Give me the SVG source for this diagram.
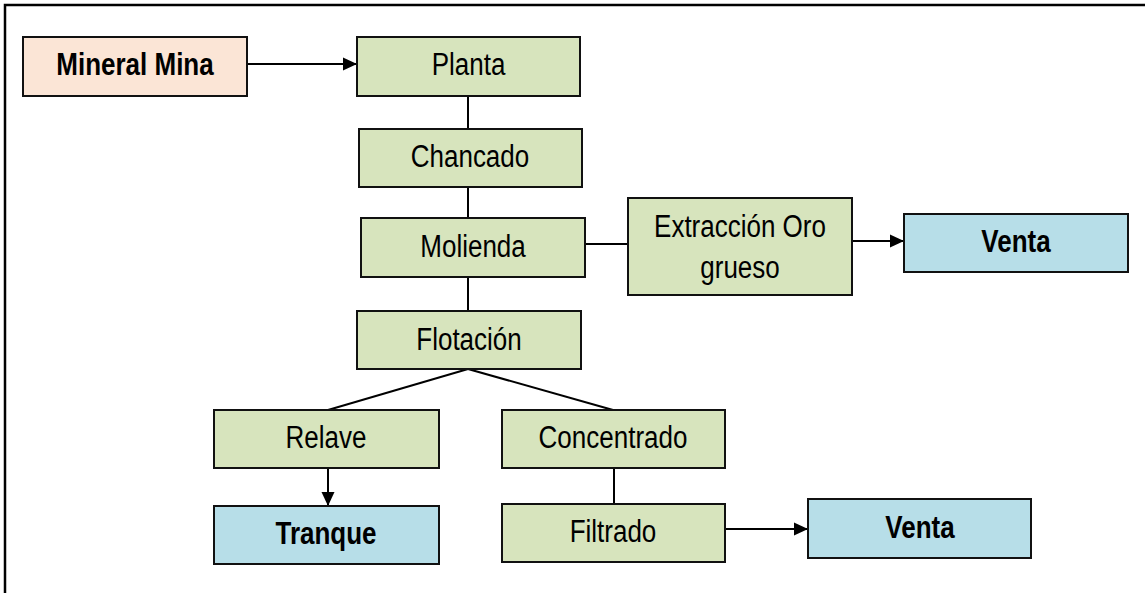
<svg xmlns="http://www.w3.org/2000/svg" width="1145" height="593" viewBox="0 0 1145 593">
<style>
rect{stroke:#111;stroke-width:2}
.g{fill:#d7e4bd}.p{fill:#fbe5d6}.b{fill:#b7dee8}
text{font-family:"Liberation Sans",Arial,sans-serif;font-size:26px;fill:#000;text-anchor:middle}
.bd{font-weight:bold}
#connectors line{stroke:#000;stroke-width:2}
</style>
<defs>
<marker id="ah" markerWidth="14" markerHeight="14" viewBox="0 0 14 14" refX="14" refY="7" orient="auto" markerUnits="userSpaceOnUse">
<path d="M0,0.5 L14,7 L0,13.5 Z" fill="#000"/>
</marker>
</defs>
<rect x="0" y="0" width="1145" height="593" fill="#fff" style="stroke:none"/>
<path d="M5,600 V5 H1150" fill="none" stroke="#000" stroke-width="2.5"/>
<g id="connectors">
<line x1="247" y1="64" x2="357" y2="64" marker-end="url(#ah)"/>
<line x1="468" y1="96" x2="468" y2="129"/>
<line x1="468" y1="187" x2="468" y2="218"/>
<line x1="585" y1="244" x2="628" y2="244"/>
<line x1="852" y1="241" x2="904" y2="241" marker-end="url(#ah)"/>
<line x1="468" y1="277" x2="468" y2="311"/>
<line x1="468" y1="369" x2="328" y2="410"/>
<line x1="468" y1="369" x2="613" y2="410"/>
<line x1="328" y1="468" x2="328" y2="506" marker-end="url(#ah)"/>
<line x1="614" y1="468" x2="614" y2="504"/>
<line x1="725" y1="529" x2="808" y2="529" marker-end="url(#ah)"/>
</g>
<g id="mineral"><rect class="p" x="23" y="37" width="224" height="59"/><text class="bd" transform="translate(135,75) scale(1,1.2)">Mineral Mina</text></g>
<g id="planta"><rect class="g" x="357" y="37" width="223" height="59"/><text transform="translate(468.5,75) scale(1,1.2)">Planta</text></g>
<g id="chancado"><rect class="g" x="359" y="129" width="223" height="58"/><text transform="translate(470,167) scale(1,1.2)">Chancado</text></g>
<g id="molienda"><rect class="g" x="361" y="218" width="224" height="59"/><text transform="translate(473,257) scale(1,1.2)">Molienda</text></g>
<g id="extraccion"><rect class="g" x="628" y="198" width="224" height="97"/><text transform="translate(740,237) scale(1,1.2)">Extracción Oro</text><text transform="translate(740,278) scale(1,1.2)">grueso</text></g>
<g id="venta1"><rect class="b" x="904" y="214" width="224" height="58"/><text class="bd" transform="translate(1016,252) scale(1,1.2)">Venta</text></g>
<g id="flotacion"><rect class="g" x="357" y="311" width="224" height="58"/><text transform="translate(469,350) scale(1,1.2)">Flotación</text></g>
<g id="relave"><rect class="g" x="214" y="410" width="225" height="58"/><text transform="translate(326,448) scale(1,1.2)">Relave</text></g>
<g id="concentrado"><rect class="g" x="502" y="410" width="223" height="58"/><text transform="translate(613,448) scale(1,1.2)">Concentrado</text></g>
<g id="tranque"><rect class="b" x="214" y="506" width="225" height="58"/><text class="bd" transform="translate(326,544) scale(1,1.2)">Tranque</text></g>
<g id="filtrado"><rect class="g" x="502" y="504" width="223" height="58"/><text transform="translate(613,542) scale(1,1.2)">Filtrado</text></g>
<g id="venta2"><rect class="b" x="808" y="499" width="223" height="59"/><text class="bd" transform="translate(920,538) scale(1,1.2)">Venta</text></g>
</svg>
